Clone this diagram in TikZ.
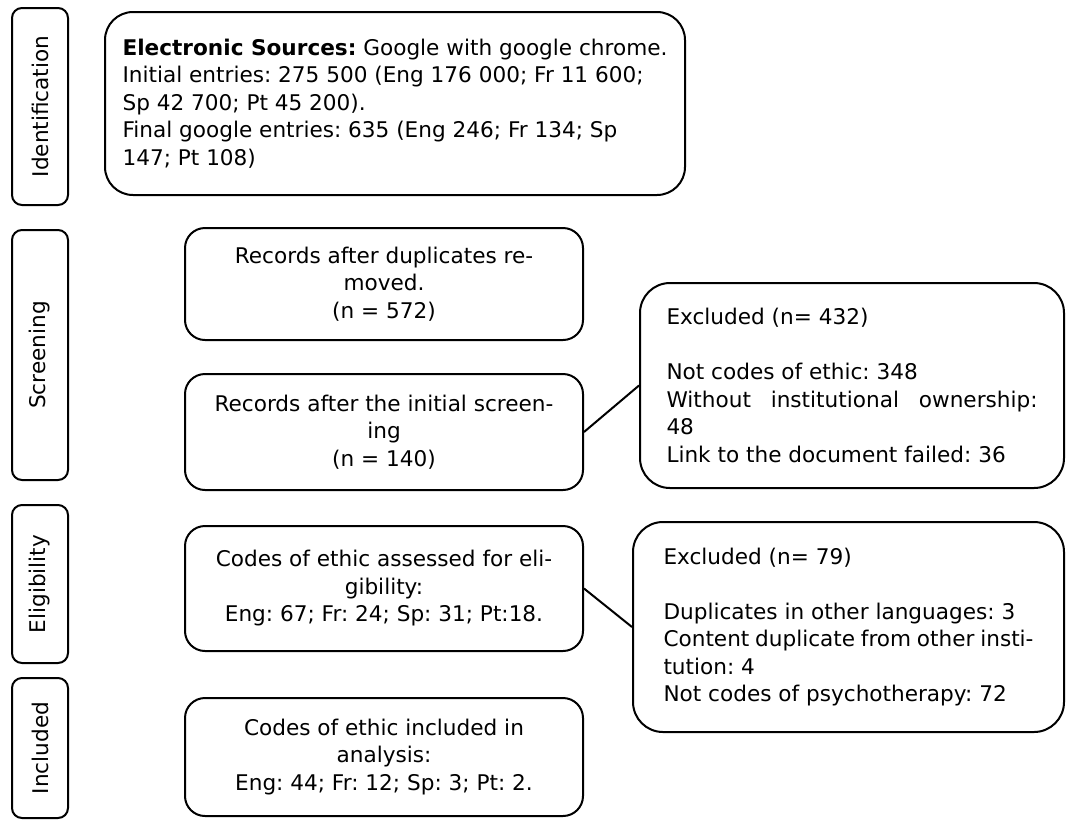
\documentclass[tikz,border=0pt]{standalone}
\usepackage{fontspec}
\setmainfont{DejaVu Sans}
\usetikzlibrary{positioning}
\frenchspacing

\begin{document}
\begin{tikzpicture}[x=1pt, y=-1pt, line width=2pt,
    font=\fontsize{21.6}{27.5}\selectfont,
    side/.style = {draw, rounded corners=10pt, rotate=90, minimum height=56pt, inner sep=0pt},
    main/.style = {draw, rounded corners=20pt, minimum width=398pt, align=center, inner sep=0pt},
    excl/.style = {draw, rounded corners=30pt, align=left, inner sep=0pt}]
    \useasboundingbox (0,0) rectangle (1067,820);

    % phases on the left
    \node[side, minimum width=197pt] (idlab) at (40,106.5) {Identification};
    \node[side, minimum width=250pt] (scrlab) at (40,355) {Screening};
    \node[side, minimum width=158pt] (elilab) at (40,584) {Eligibility};
    \node[side, minimum width=140pt] (inclab) at (40,748) {Included};

    \node[draw, rounded corners=28pt, minimum width=580pt, minimum height=183pt, align=left, inner sep=0pt] (src) at (395,103.5)
        {\textbf{Electronic Sources:} Google with google chrome.\\
         Initial entries: 275 500 (Eng 176 000; Fr 11 600;\\
         Sp 42 700; Pt 45 200).\\
         Final google entries: 635 (Eng 246; Fr 134; Sp\\
         147; Pt 108)};

    \node[main, minimum height=112pt] (dup) at (384,284) {Records after duplicates re-\\ moved.\\ (n = 572)};
    \node[main, minimum height=116pt] (scr) [below=32pt of dup] {Records after the initial screen-\\ ing\\ (n = 140)};
    \node[main, minimum height=125pt] (ass) [below=34pt of scr] {Codes of ethic assessed for eli-\\ gibility:\\ Eng: 67; Fr: 24; Sp: 31; Pt:18.};
    \node[main, minimum height=118pt] (inc) [below=45pt of ass] {Codes of ethic included in\\ analysis:\\ Eng: 44; Fr: 12; Sp: 3; Pt: 2.};

    \node[excl, minimum width=424pt, minimum height=205pt] (exa) at (852,385.5)
        {Excluded (n= 432)\\[27.5pt]
         Not codes of ethic: 348\\
         \makebox[371pt][s]{Without institutional ownership:}\\
         48\\
         Link to the document failed: 36};
    \node[excl, minimum width=431pt, minimum height=210pt] (exb) at (848.5,627)
        {Excluded (n= 79)\\[27.5pt]
         Duplicates in other languages: 3\\
         \makebox[370pt][s]{Content duplicate from other insti-}\\
         tution: 4\\
         Not codes of psychotherapy: 72};

    \draw (scr.east) -- (exa.west);
    \draw (ass.east) -- (exb.west);
\end{tikzpicture}
\end{document}
